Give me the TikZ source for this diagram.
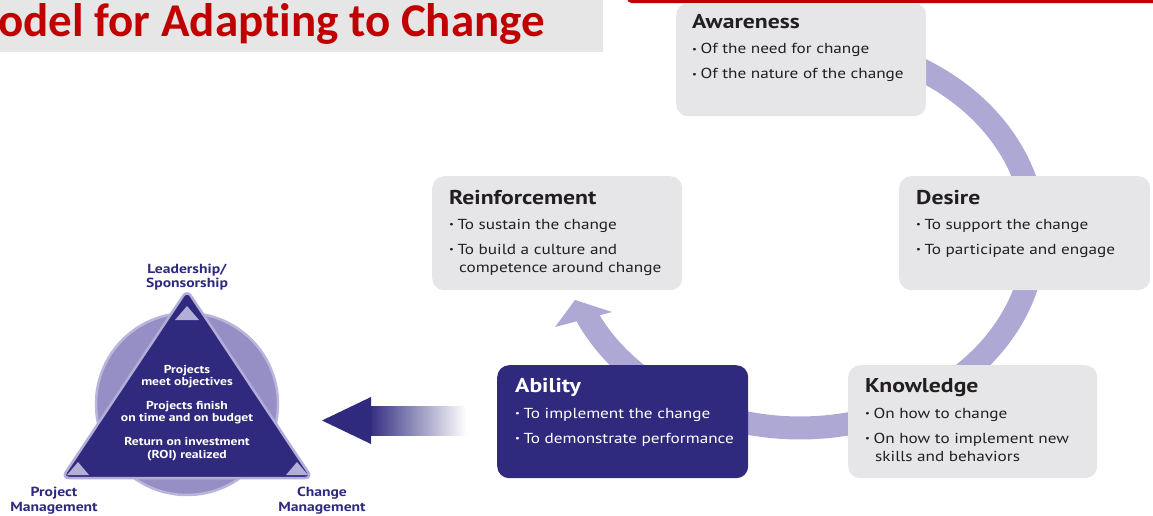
\documentclass[tikz,border=0pt]{standalone}
\usepackage{fontspec}
\setmainfont[FakeStretch=1.185]{PT Sans}
\newfontfamily\titlefont[Ligatures={NoCommon}]{Carlito}
\definecolor{navyc}{HTML}{2F2A7E}
\definecolor{bandc}{HTML}{ADA8D4}
\definecolor{boxgray}{HTML}{E6E6E8}
\definecolor{titlegray}{HTML}{E6E6E6}
\definecolor{titlered}{HTML}{C00000}
\definecolor{textdark}{HTML}{231F20}
\definecolor{circfill}{HTML}{958FC6}
\definecolor{circrim}{HTML}{BAB5DC}
\definecolor{tririm}{HTML}{B3AED8}
\newcommand{\bul}{\raisebox{1.2pt}{\fontsize{9}{9}\selectfont •}\hspace{3.5pt}}
\tikzset{
  gbox/.style={rounded corners=12pt, fill=boxgray, draw=none, inner sep=0pt, anchor=north west},
  nbox/.style={rounded corners=12pt, fill=navyc, draw=none, inner sep=0pt, anchor=north west},
  hd/.style={font=\bfseries\fontsize{20}{20}\selectfont, text=textdark, anchor=base west, inner sep=0pt},
  bl/.style={font=\fontsize{14.5}{14.5}\selectfont, text=textdark, anchor=base west, inner sep=0pt},
  tritext/.style={font=\bfseries\fontsize{11.5}{12.5}\selectfont, text=white, align=center, inner sep=0pt},
  lbl/.style={font=\bfseries\fontsize{13.2}{14.5}\selectfont, text=navyc, inner sep=0pt, align=center},
  smalltri/.style={fill=tririm, draw=none}
}
\begin{document}
\begin{tikzpicture}[x=1pt,y=-1pt]
\useasboundingbox (0,0) rectangle (1153,516);
\clip (0,0) rectangle (1153,516);
% title strip
\node[fill=titlegray, minimum width=603pt, minimum height=52pt, anchor=north west, inner sep=0pt] (tbar) at (0,0) {};
\node[font=\titlefont\bfseries\fontsize{47}{47}\selectfont, text=titlered, anchor=base west, inner sep=0pt] (title) at (-2,37) {odel for Adapting to Change};
\coordinate (r1) at (628.5,-10);
\coordinate (r2) at (628.5,1.5);
\coordinate (r3) at (1160,1.5);
\draw[titlered, line width=3.5pt, rounded corners=4pt] (r1) -- (r2) -- (r3);
% cycle band
\draw[bandc, line width=23pt] plot[domain=-70:156, samples=120] ({800+235*cos(\x)}, {235+193*sin(\x)});
\coordinate (h1) at (555,327);
\coordinate (h2) at (575,300);
\coordinate (h3) at (612,312);
\fill[bandc] (h1) -- (h2) -- (h3) -- cycle;
% boxes
\node[gbox, minimum width=250pt, minimum height=113pt] (aw) at (676,3) {};
\node[gbox, minimum width=250pt, minimum height=114pt] (re) at (432,176) {};
\node[gbox, minimum width=251pt, minimum height=114pt] (de) at (899,176) {};
\node[nbox, minimum width=251pt, minimum height=113pt] (ab) at (497,365) {};
\node[gbox, minimum width=249pt, minimum height=113pt] (kn) at (848,365) {};
% Awareness
\node[hd] (awT) at (692,29) {Awareness};
\node[bl] (aw1) at (692,54) {\bul Of the need for change};
\node[bl] (aw2) at (692,79) {\bul Of the nature of the change};
% Reinforcement
\node[hd] (reT) at (449,204) {Reinforcement};
\node[bl] (re1) at (449,229) {\bul To sustain the change};
\node[bl] (re2) at (449,254) {\bul To build a culture and};
\node[bl] (re3) at (459,272) {competence around change};
% Desire
\node[hd] (deT) at (916,204) {Desire};
\node[bl] (de1) at (916,229) {\bul To support the change};
\node[bl] (de2) at (916,254) {\bul To participate and engage};
% Ability
\node[hd, text=white] (abT) at (515,392) {Ability};
\node[bl, text=white] (ab1) at (515,418) {\bul To implement the change};
\node[bl, text=white] (ab2) at (515,443) {\bul To demonstrate performance};
% Knowledge
\node[hd] (knT) at (865,392) {Knowledge};
\node[bl] (kn1) at (865,418) {\bul On how to change};
\node[bl] (kn2) at (865,443) {\bul On how to implement new};
\node[bl] (kn3) at (875,461) {skills and behaviors};
% big arrow
\coordinate (s1) at (368,406);
\coordinate (s2) at (466,435);
\shade[left color=navyc, right color=white] (s1) rectangle (s2);
\coordinate (a1) at (322,420.5);
\coordinate (a2) at (371,397);
\coordinate (a3) at (371,444);
\fill[navyc] (a1) -- (a2) -- (a3) -- cycle;
% triangle model
\coordinate (cc) at (187,404);
\filldraw[fill=circfill, draw=circrim, line width=2.5pt] (cc) circle (91);
\coordinate (t1) at (187,290);
\coordinate (t2) at (312,478);
\coordinate (t3) at (62,478);
\filldraw[fill=navyc, draw=tririm, line width=2.5pt, rounded corners=7pt] (t1) -- (t2) -- (t3) -- cycle;
\fill[smalltri] (187,306) -- (199,320) -- (175,320) -- cycle;
\fill[smalltri] (78,462) -- (89,475) -- (67,475) -- cycle;
\fill[smalltri] (297,462) -- (308,475) -- (286,475) -- cycle;
\node[tritext] (g1) at (187,376.5) {Projects\\meet objectives};
\node[tritext] (g2) at (187,412.5) {Projects finish\\on time and on budget};
\node[tritext] (g3) at (187,449) {Return on investment\\(ROI) realized};
\node[lbl] (lead) at (187,277) {Leadership/\\Sponsorship};
\node[lbl] (pm) at (54,500.5) {Project\\Management};
\node[lbl] (cm) at (322,500.5) {Change\\Management};
\end{tikzpicture}
\end{document}
